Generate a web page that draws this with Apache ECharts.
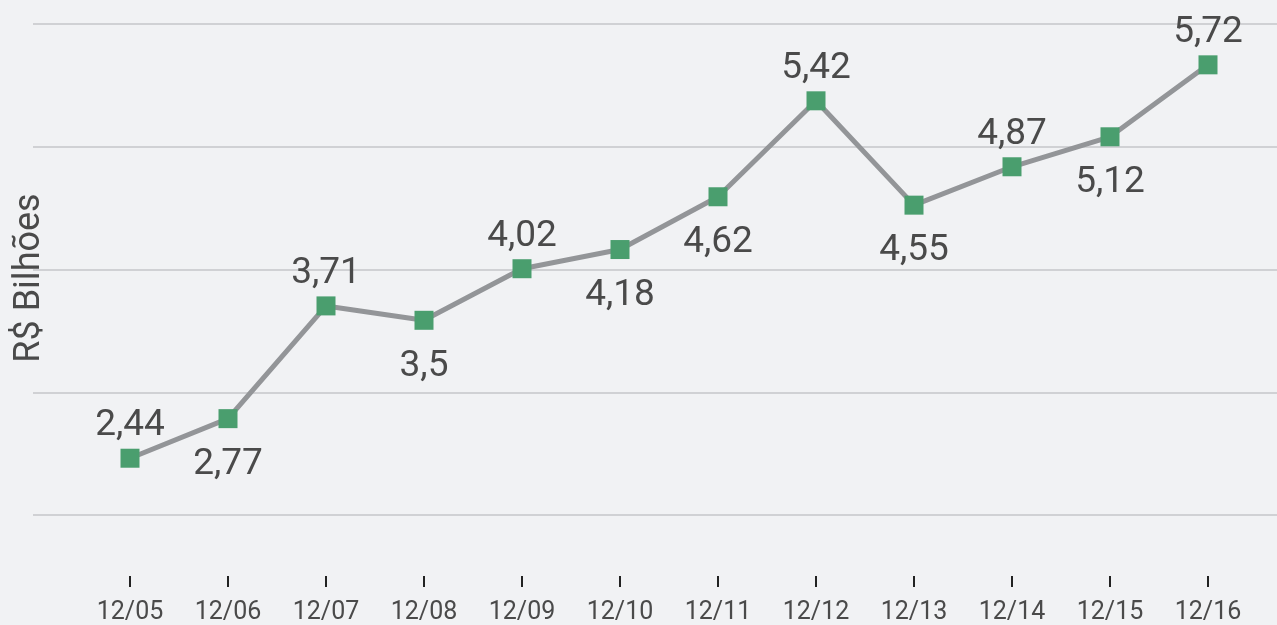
<!DOCTYPE html>
<html>
<head>
<meta charset="utf-8">
<script src="https://cdn.jsdelivr.net/npm/echarts@6/dist/echarts.min.js"></script>
<style>
html,body{margin:0;padding:0;background:#f1f2f4;}
#chart{width:1277px;height:625px;}
</style>
</head>
<body>
<div id="chart"></div>
<script>
const categories = ['12/05','12/06','12/07','12/08','12/09','12/10','12/11','12/12','12/13','12/14','12/15','12/16'];
const values = [2.44, 2.77, 3.71, 3.59, 4.02, 4.18, 4.62, 5.42, 4.55, 4.87, 5.12, 5.72];
const valueLabels = ['2,44','2,77','3,71','3,5','4,02','4,18','4,62','5,42','4,55','4,87','5,12','5,72'];
const labelSide = ['top','bottom','top','bottom','top','bottom','bottom','top','bottom','top','bottom','top'];
const axisTitle = 'R$ Bilhões';

const FONT = 'Roboto';
const chart = echarts.init(document.getElementById('chart'), null, {renderer:'canvas'});

const seriesData = values.map((v, i) => ({
  value: v,
  label: {
    position: labelSide[i],
    distance: labelSide[i] === 'top' ? 4 : 18
  }
}));

chart.setOption({
  backgroundColor: '#f1f2f4',
  animation: false,
  grid: [
    {left: 33, right: 0, top: 24, height: 491},
    {left: 81, right: 20, top: 24, height: 491}
  ],
  xAxis: [
    {gridIndex: 0, type: 'value', min: 0, max: 1, show: false},
    {
      gridIndex: 1, type: 'category', data: categories, boundaryGap: true,
      offset: 63,
      axisLine: {show: false},
      axisTick: {show: true, alignWithLabel: true, length: 11, lineStyle: {color: '#222', width: 2}},
      axisLabel: {color: '#4a4a4a', fontFamily: FONT, fontSize: 25, margin: 24}
    }
  ],
  yAxis: [
    {
      gridIndex: 0, type: 'value', min: 0, max: 4, interval: 1,
      axisLine: {show: false}, axisTick: {show: false}, axisLabel: {show: false},
      splitLine: {show: true, lineStyle: {color: '#d0d1d4', width: 2}}
    },
    {
      gridIndex: 1, type: 'value', min: 1.9833, max: 6.0604,
      show: false, splitLine: {show: false}
    }
  ],
  graphic: [{
    type: 'text',
    x: 30, y: 278,
    rotation: Math.PI / 2,
    style: {
      text: axisTitle,
      fill: '#4a4a4a',
      font: '36px ' + FONT,
      textAlign: 'center',
      textVerticalAlign: 'middle'
    }
  }],
  series: [{
    type: 'line',
    xAxisIndex: 1, yAxisIndex: 1,
    data: seriesData,
    symbol: 'rect',
    symbolSize: 19,
    lineStyle: {color: '#939598', width: 5},
    itemStyle: {color: '#4a9e6e'},
    label: {
      show: true,
      color: '#4a4a4a',
      fontFamily: FONT,
      fontSize: 37,
      formatter: p => valueLabels[p.dataIndex]
    },
    z: 3
  }]
});
</script>
</body>
</html>
